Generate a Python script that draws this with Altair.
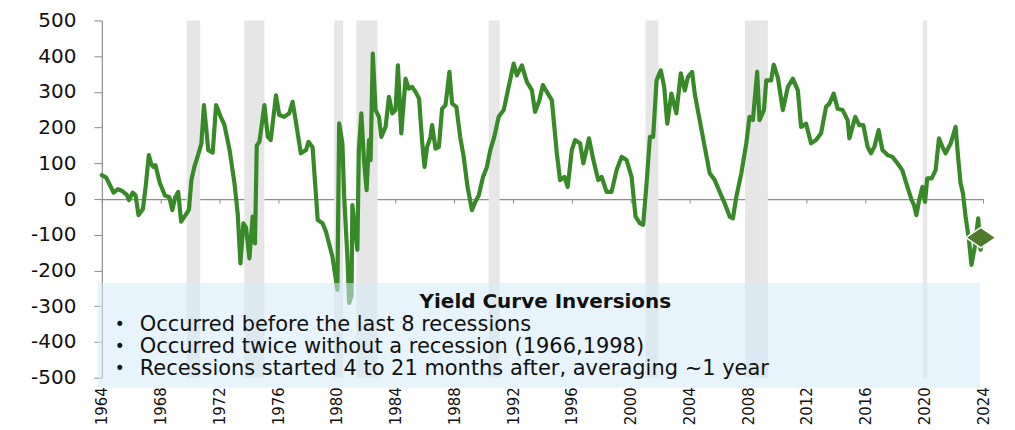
import altair as alt
import pandas as pd

# ---------------- data ----------------
years = [
    1964.0, 1964.3, 1964.6, 1964.8, 1965.1, 1965.4, 1965.7, 1965.85, 1966.1, 1966.3,
    1966.5, 1966.8, 1967.0, 1967.2, 1967.35, 1967.5, 1967.65, 1967.95, 1968.3, 1968.6,
    1968.8, 1969.0, 1969.2, 1969.4, 1969.7, 1969.93, 1970.1, 1970.3, 1970.55, 1970.78,
    1970.95, 1971.1, 1971.25, 1971.55, 1971.78, 1972.1, 1972.35, 1972.7, 1973.03, 1973.25,
    1973.44, 1973.64, 1973.82, 1974.05, 1974.27, 1974.43, 1974.55, 1974.73, 1974.84, 1975.07,
    1975.3, 1975.5, 1975.86, 1976.08, 1976.42, 1976.76, 1976.99, 1977.2, 1977.55, 1977.9,
    1978.07, 1978.35, 1978.7, 1979.03, 1979.26, 1979.7, 1980.04, 1980.16, 1980.38, 1980.5,
    1980.72, 1980.84, 1981.0, 1981.06, 1981.22, 1981.4, 1981.5, 1981.67, 1981.85, 1982.03,
    1982.19, 1982.3, 1982.45, 1982.64, 1982.87, 1983.03, 1983.32, 1983.55, 1983.78, 1984.0,
    1984.16, 1984.39, 1984.68, 1984.9, 1985.13, 1985.36, 1985.6, 1985.8, 1985.97, 1986.15,
    1986.38, 1986.49, 1986.72, 1986.95, 1987.17, 1987.4, 1987.67, 1987.85, 1988.14, 1988.4,
    1988.64, 1988.9, 1989.2, 1989.43, 1989.66, 1989.95, 1990.22, 1990.45, 1990.72, 1991.02,
    1991.36, 1991.7, 1992.04, 1992.26, 1992.6, 1992.94, 1993.28, 1993.5, 1993.8, 1994.03,
    1994.3, 1994.64, 1994.98, 1995.2, 1995.5, 1995.72, 1996.0, 1996.22, 1996.56, 1996.79,
    1997.17, 1997.47, 1997.8, 1998.03, 1998.37, 1998.71, 1999.05, 1999.39, 1999.73, 2000.07,
    2000.34, 2000.64, 2000.86, 2001.09, 2001.32, 2001.54, 2001.77, 2002.06, 2002.29, 2002.5,
    2002.78, 2003.12, 2003.42, 2003.69, 2003.91, 2004.19, 2004.37, 2004.71, 2005.05, 2005.39,
    2005.73, 2006.07, 2006.41, 2006.75, 2006.97, 2007.2, 2007.54, 2007.88, 2008.1, 2008.33,
    2008.62, 2008.78, 2009.08, 2009.24, 2009.57, 2009.75, 2010.03, 2010.37, 2010.71, 2011.05,
    2011.39, 2011.61, 2011.95, 2012.29, 2012.63, 2012.97, 2013.31, 2013.54, 2013.83, 2014.1,
    2014.44, 2014.78, 2014.9, 2015.3, 2015.57, 2015.85, 2016.14, 2016.37, 2016.6, 2016.89,
    2017.15, 2017.5, 2017.83, 2018.17, 2018.5, 2018.85, 2019.14, 2019.3, 2019.46, 2019.65,
    2019.87, 2020.05, 2020.2, 2020.5, 2020.77, 2021.0, 2021.23, 2021.45, 2021.8, 2022.13,
    2022.32, 2022.47, 2022.63, 2022.81, 2023.04, 2023.21, 2023.44, 2023.67, 2023.83, 2023.99,
]
spread = [
    67, 60, 35, 18, 28, 22, 12, -3, 18, 10,
    -45, -28, 40, 123, 100, 90, 95, 45, 10, 5,
    -31, 5, 20, -63, -45, -30, 53, 90, 123, 155,
    263, 202, 137, 130, 263, 230, 207, 137, 45, -40,
    -180, -68, -80, -166, -49, -124, 150, 160, 193, 263,
    174, 165, 290, 235, 230, 240, 272, 220, 128, 137,
    160, 145, -59, -68, -91, -161, -254, 212, 156, 7,
    -161, -291, -272, -17, -77, -142, 137, 240, 109, 25,
    165, 109, 407, 249, 230, 174, 202, 286, 240, 249,
    374, 184, 337, 309, 314, 300, 281, 165, 90, 146,
    174, 207, 141, 146, 253, 263, 356, 267, 258, 174,
    118, 34, -31, -8, 10, 61, 90, 137, 174, 230,
    249, 314, 379, 346, 374, 328, 305, 244, 277, 319,
    300, 277, 128, 53, 62, 34, 137, 165, 156, 100,
    170, 109, 53, 62, 20, 20, 81, 118, 109, 62,
    -49, -68, -72, 44, 174, 174, 332, 360, 314, 211,
    295, 240, 352, 304, 342, 356, 295, 220, 146, 72,
    53, 20, -12, -49, -54, 6, 72, 156, 230, 221,
    356, 221, 249, 332, 332, 376, 340, 249, 314, 337,
    304, 202, 211, 156, 165, 184, 258, 267, 295, 253,
    249, 221, 170, 230, 207, 207, 146, 128, 146, 193,
    137, 123, 118, 100, 81, 34, -3, -17, -45, -3,
    34, -8, 58, 58, 81, 170, 146, 128, 156, 202,
    109, 44, 16, -49, -114, -184, -133, -54, -142, -114,
]

rec_start = [1969.77, 1973.70, 1979.82, 1981.33, 1990.34, 2001.02, 2007.80, 2019.90]
rec_end = [1970.70, 1975.07, 1980.43, 1982.78, 1991.09, 2001.90, 2009.35, 2020.20]

latest_year = [2023.85]
latest_value = [-108]

x_tick_years = list(range(1964, 2025, 4))
y_tick_values = list(range(-500, 501, 100))

box_title = "Yield Curve Inversions"
box_lines = [
    "Occurred before the last 8 recessions",
    "Occurred twice without a recession (1966,1998)",
    "Recessions started 4 to 21 months after, averaging ~1 year",
]

# ---------------- layout / style ----------------
W, H = 883, 358
X_DOMAIN = [1964, 2024]
Y_DOMAIN = [-500, 500]
FONT = "DejaVu Sans"
GREEN = "#388A28"
AXIS_GRAY = "#8c8c8c"

line_df = pd.DataFrame({"year": years, "spread": spread})
rec_df = pd.DataFrame({"start": rec_start, "end": rec_end})
last_df = pd.DataFrame({"year": latest_year, "spread": latest_value})

# text box geometry (data units)
box_x0, box_x1 = 1963.73, 2023.8
box_y0, box_y1 = -235, -528
title_x, title_y = 1994.2, -288
bullet_x, text_x = 1965.22, 1966.58
line_y0, line_step = -352, -62.5
lines_df = pd.DataFrame({
    "text": box_lines,
    "ypos": [line_y0 + i * line_step for i in range(len(box_lines))],
})


def xs():
    return alt.Scale(domain=X_DOMAIN, nice=False, zero=False)


def ys():
    return alt.Scale(domain=Y_DOMAIN, nice=False, zero=False)


y_axis = alt.Axis(
    values=y_tick_values, labelExpr="datum.value + ''",
    labelFont=FONT, labelFontSize=20, labelColor="#111111", labelPadding=18,
    tickSize=8, tickColor=AXIS_GRAY, domainColor=AXIS_GRAY, domainWidth=1.2,
    grid=False, title=None, labelFlush=False, labelOverlap=False,
)
label_axis = alt.Axis(
    orient="bottom", values=x_tick_years, labelExpr="datum.value + ''",
    labelAngle=-90, labelFont=FONT, labelFontSize=15, labelColor="#111111",
    labelPadding=9, domain=False, ticks=False, tickSize=0, grid=False,
    title=None, labelFlush=False, labelOverlap=False,
)
zero_axis = alt.Axis(
    orient="bottom", offset=-H / 2, values=x_tick_years, labels=False,
    ticks=True, tickSize=4, tickColor=AXIS_GRAY, domain=True,
    domainColor=AXIS_GRAY, domainWidth=1.2, grid=False, title=None,
)


def yd(v):
    return alt.Y(datum=v, type="quantitative", scale=ys(), axis=y_axis)


rec = alt.Chart(rec_df).mark_rect(color="#E6E6E6").encode(
    x=alt.X("start:Q", scale=xs(), axis=None),
    x2="end:Q",
    y=yd(Y_DOMAIN[0]),
    y2=alt.Y2(datum=Y_DOMAIN[1]),
)

zero_layer = alt.Chart(line_df).mark_line(opacity=0).encode(
    x=alt.X("year:Q", scale=xs(), axis=zero_axis),
    y=alt.Y("spread:Q", scale=ys(), axis=y_axis),
)

line = alt.Chart(line_df).mark_line(
    color=GREEN, strokeWidth=4.2, strokeJoin="round", strokeCap="round"
).encode(
    x=alt.X("year:Q", scale=xs(), axis=label_axis),
    y=alt.Y("spread:Q", scale=ys(), axis=y_axis),
)

box = alt.Chart(rec_df.head(1)).mark_rect(color="#D6EBF8", opacity=0.55).encode(
    x=alt.X(datum=box_x0, type="quantitative", scale=xs(), axis=None),
    x2=alt.X2(datum=box_x1),
    y=yd(box_y0),
    y2=alt.Y2(datum=box_y1),
)

title_txt = alt.Chart(rec_df.head(1)).mark_text(
    text=box_title, font=FONT, fontSize=20, fontWeight="bold",
    color="#111111", align="center", baseline="middle",
).encode(
    x=alt.X(datum=title_x, type="quantitative", scale=xs(), axis=None),
    y=yd(title_y),
)

bullets = alt.Chart(lines_df).mark_text(
    text="•", font=FONT, fontSize=17, color="#111111",
    align="center", baseline="middle",
).encode(
    x=alt.X(datum=bullet_x, type="quantitative", scale=xs(), axis=None),
    y=alt.Y("ypos:Q", scale=ys(), axis=y_axis),
)

texts = alt.Chart(lines_df).mark_text(
    font=FONT, fontSize=21, color="#111111", align="left", baseline="middle",
).encode(
    x=alt.X(datum=text_x, type="quantitative", scale=xs(), axis=None),
    y=alt.Y("ypos:Q", scale=ys(), axis=y_axis),
    text="text:N",
)

diamond = alt.Chart(last_df).mark_point(
    shape="M -1 0 L 0 -0.68 L 1 0 L 0 0.68 Z", size=900, filled=True,
    fill="#4E7B2B", stroke="white", strokeWidth=1.5, opacity=1,
).encode(
    x=alt.X("year:Q", scale=xs(), axis=None),
    y=alt.Y("spread:Q", scale=ys(), axis=y_axis),
)

chart = alt.layer(
    rec, zero_layer, line, box, title_txt, bullets, texts, diamond
).resolve_scale(x="independent").properties(
    width=W, height=H,
    autosize=alt.AutoSizeParams(type="none"),
    padding={"left": 94, "top": 12, "right": 24, "bottom": 50},
    background="white",
).configure_view(stroke=None)

chart.save("out.html", embed_options={"renderer": "svg", "actions": False})
